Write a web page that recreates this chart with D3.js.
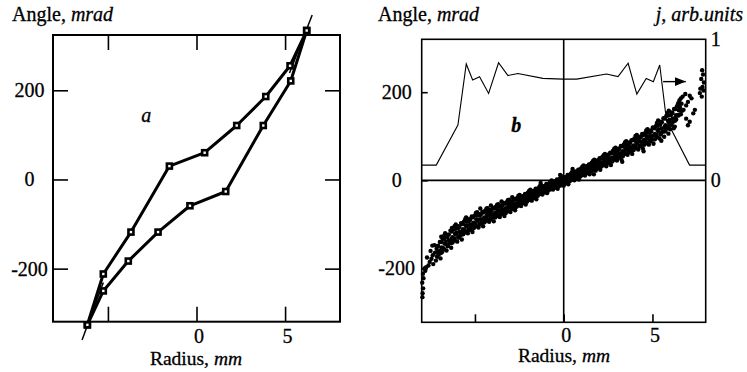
<!DOCTYPE html>
<html>
<head>
<meta charset="utf-8">
<script src="https://cdn.jsdelivr.net/npm/d3@7"></script>
<style>
body { margin: 0; background: #fff; }
svg { display: block; font-family: "Liberation Serif", "Times New Roman", serif; }
svg text { stroke: #000; stroke-width: 0.3; }
</style>
</head>
<body>
<svg id="chart"></svg>
<script>
// panel a: two branches, radius (mm) / angle (mrad)
var upperR = [-6.16, -5.26, -3.70, -1.53, 0.46, 2.27, 3.91, 5.28, 6.22];
var upperA = [-326, -212, -118, 30, 60, 121, 186, 255, 334];
var lowerR = [-6.16, -5.26, -3.85, -2.17, -0.37, 1.65, 3.77, 5.32, 6.22];
var lowerA = [-326, -250, -183, -118, -59, -27, 121, 221, 334];
// thin end extensions
var tailBottom = [[-6.46, -360], [-5.26, -231]];
var tailTop = [[6.53, 369], [5.25, 239]];

var yTicksA = [200, 0, -200];
var xTicks = [-5, 0, 5];
var xLabels = ['', '0', '5'];

// panel b: current density j (right axis) and measured angles
var jR = [-8.0, -7.18, -5.96, -5.49, -5.13, -4.74, -4.23, -3.67, -3.14, -2.58, -1.17, -0.04, 0.73, 2.41, 3.06, 3.63, 4.12, 4.65, 5.05, 5.41, 5.79, 7.09, 8.0];
var jV = [0.108, 0.108, 0.392, 0.825, 0.711, 0.735, 0.616, 0.834, 0.743, 0.757, 0.723, 0.718, 0.718, 0.754, 0.736, 0.830, 0.612, 0.722, 0.699, 0.818, 0.428, 0.108, 0.108];
var arrowR = [5.6, 6.88];
var arrowJ = 0.70;
var jTicks = [0, 1];

var scatter = [
[-7.2,-182],[-7.13,-173],[-7.25,-164],[-7.16,-155],[-7.28,-147],
[-6.94,-177],[-7.04,-168],[-6.91,-158],[-7.07,-149],[-6.98,-140],
[-6.86,-163],[-6.77,-154],[-6.72,-143],[-6.82,-133],[-6.75,-126],
[-6.6,-159],[-6.53,-149],[-6.65,-139],[-6.56,-129],[-6.68,-120],
[-6.34,-153],[-6.44,-143],[-6.31,-133],[-6.47,-123],[-6.38,-114],
[-6.26,-141],[-6.17,-132],[-6.12,-121],[-6.22,-111],[-6.15,-104],
[-6.0,-139],[-5.93,-129],[-6.05,-119],[-5.96,-109],[-6.08,-100],
[-5.74,-134],[-5.84,-125],[-5.71,-115],[-5.87,-106],[-5.78,-97],
[-5.66,-122],[-5.57,-113],[-5.52,-103],[-5.62,-94],[-5.55,-88],
[-5.4,-120],[-5.33,-111],[-5.45,-102],[-5.36,-93],[-5.48,-85],
[-5.14,-117],[-5.24,-108],[-5.11,-99],[-5.27,-90],[-5.18,-82],
[-5.06,-108],[-4.97,-99],[-4.92,-89],[-5.02,-80],[-4.95,-74],
[-4.8,-107],[-4.73,-98],[-4.85,-89],[-4.76,-80],[-4.88,-72],
[-4.54,-104],[-4.64,-96],[-4.51,-87],[-4.67,-78],[-4.58,-71],
[-4.46,-95],[-4.37,-87],[-4.32,-78],[-4.42,-69],[-4.35,-64],
[-4.2,-94],[-4.13,-86],[-4.25,-78],[-4.16,-70],[-4.28,-63],
[-3.94,-93],[-4.04,-85],[-3.91,-77],[-4.07,-69],[-3.98,-62],
[-3.86,-84],[-3.77,-76],[-3.72,-68],[-3.82,-60],[-3.75,-55],
[-3.6,-83],[-3.53,-76],[-3.65,-68],[-3.56,-60],[-3.68,-54],
[-3.34,-81],[-3.44,-73],[-3.31,-66],[-3.47,-58],[-3.38,-51],
[-3.26,-74],[-3.17,-66],[-3.12,-58],[-3.22,-50],[-3.15,-45],
[-3.0,-72],[-2.93,-64],[-3.05,-57],[-2.96,-50],[-3.08,-44],
[-2.74,-68],[-2.84,-61],[-2.71,-55],[-2.87,-48],[-2.78,-42],
[-2.66,-60],[-2.57,-54],[-2.52,-46],[-2.62,-40],[-2.55,-35],
[-2.4,-58],[-2.33,-52],[-2.45,-45],[-2.36,-39],[-2.48,-33],
[-2.14,-55],[-2.24,-49],[-2.11,-43],[-2.27,-36],[-2.18,-31],
[-2.06,-48],[-1.97,-42],[-1.92,-35],[-2.02,-28],[-1.95,-24],
[-1.8,-46],[-1.73,-40],[-1.85,-33],[-1.76,-27],[-1.88,-21],
[-1.54,-43],[-1.64,-37],[-1.51,-31],[-1.67,-24],[-1.58,-19],
[-1.46,-35],[-1.37,-29],[-1.32,-23],[-1.42,-17],[-1.35,-13],
[-1.2,-32],[-1.13,-27],[-1.25,-21],[-1.16,-16],[-1.28,-11],
[-0.94,-29],[-1.04,-24],[-0.91,-19],[-1.07,-13],[-0.98,-8],
[-0.86,-23],[-0.77,-18],[-0.72,-12],[-0.82,-7],[-0.75,-3],
[-0.6,-21],[-0.53,-16],[-0.65,-10],[-0.56,-5],[-0.68,0],
[-0.34,-19],[-0.44,-14],[-0.31,-9],[-0.47,-3],[-0.38,2],
[-0.26,-13],[-0.17,-8],[-0.12,-2],[-0.22,3],[-0.15,7],
[0,-12],[0.07,-7],[-0.05,-1],[0.04,4],[-0.08,9],
[0.26,-9],[0.16,-4],[0.29,1],[0.13,7],[0.22,12],
[0.34,-2],[0.43,3],[0.48,9],[0.38,14],[0.45,18],
[0.6,0],[0.67,4],[0.55,11],[0.64,16],[0.52,21],
[0.86,2],[0.76,8],[0.89,13],[0.73,19],[0.82,24],
[0.94,9],[1.03,15],[1.08,21],[0.98,27],[1.05,31],
[1.2,11],[1.27,17],[1.15,23],[1.24,29],[1.12,34],
[1.46,14],[1.36,20],[1.49,25],[1.33,31],[1.42,36],
[1.54,20],[1.63,27],[1.68,34],[1.58,40],[1.65,44],
[1.8,22],[1.87,28],[1.75,35],[1.84,41],[1.72,47],
[2.06,24],[1.96,31],[2.09,37],[1.93,44],[2.02,50],
[2.14,32],[2.23,38],[2.28,46],[2.18,53],[2.25,57],
[2.4,32],[2.47,40],[2.35,47],[2.44,54],[2.32,60],
[2.66,35],[2.56,42],[2.69,49],[2.53,56],[2.62,63],
[2.74,43],[2.83,51],[2.88,59],[2.78,67],[2.85,72],
[3.0,45],[3.07,52],[2.95,60],[3.04,68],[2.92,74],
[3.26,47],[3.16,55],[3.29,63],[3.13,71],[3.22,78],
[3.34,55],[3.43,64],[3.48,73],[3.38,81],[3.45,86],
[3.6,58],[3.67,66],[3.55,74],[3.64,82],[3.52,89],
[3.86,60],[3.76,68],[3.89,76],[3.73,84],[3.82,91],
[3.94,69],[4.03,77],[4.08,87],[3.98,95],[4.05,101],
[4.2,70],[4.27,78],[4.15,87],[4.24,96],[4.12,103],
[4.46,72],[4.36,80],[4.49,89],[4.33,98],[4.42,105],
[4.54,81],[4.63,89],[4.68,99],[4.58,107],[4.65,113],
[4.8,81],[4.87,90],[4.75,99],[4.84,108],[4.72,116],
[5.06,83],[4.96,92],[5.09,102],[4.93,111],[5.02,120],
[5.14,93],[5.23,103],[5.28,114],[5.18,123],[5.25,130],
[5.4,95],[5.47,106],[5.35,116],[5.44,126],[5.32,136],
[5.66,99],[5.56,110],[5.69,121],[5.53,132],[5.62,141],
[5.74,112],[5.83,123],[5.88,135],[5.78,146],[5.85,153],
[6.0,116],[6.07,126],[5.95,137],[6.04,148],[5.92,158],
[6.26,122],[6.16,133],[6.29,143],[6.13,153],[6.22,162],
[6.34,138],[6.43,148],[6.48,159],[6.38,168],[6.45,175],
[6.6,150],[6.67,158],[6.55,166],[6.64,174],[6.52,181],
[-7.95,-256],[-7.92,-245],[-7.97,-232],[-7.9,-222],[-7.93,-212],[-7.96,-265],[-7.85,-200],[-7.75,-197],
[-7.62,-193],[-7.55,-185],[-7.45,-178],[-7.7,-175],[-7.38,-170],[-7.5,-160],[-7.35,-190],[-7.8,-205],
[-7.4,-148],[-6.9,-128],[-6.3,-108],[-5.5,-84],[-4.7,-64],[-4.1,-57],[-3.5,-48],[-2.9,-38],[-1.3,-6],[-0.2,12],[0.5,26],
[1.7,14],[3.3,42],[4.5,66],[5.5,90],[5.9,106],[6.2,118],[7.0,125],[7.1,133],[6.9,140],
[6.75,160],[6.6,186],[6.7,190],[6.85,196],[7.0,178],[7.1,192],[6.9,170],[7.2,186],[7.3,152],[7.39,160],[7.67,198],
[7.8,250],[7.85,240],[7.75,230],[7.9,222],[7.82,212],[7.88,204],[7.7,208],[7.78,190]
];
// points read between the columns above, to close the band
var scatterMid = [
[-7.13,-173],[-7.07,-161],[-7.11,-149],[-6.93,-165],[-6.87,-152],[-6.91,-140],
[-6.73,-157],[-6.67,-144],[-6.71,-131],[-6.53,-149],[-6.47,-136],[-6.51,-123],
[-6.33,-142],[-6.27,-129],[-6.31,-116],[-6.13,-136],[-6.07,-123],[-6.11,-110],
[-5.93,-130],[-5.87,-117],[-5.91,-104],[-5.73,-123],[-5.67,-111],[-5.71,-99],
[-5.53,-118],[-5.47,-105],[-5.51,-93],[-5.33,-113],[-5.27,-100],[-5.31,-88],
[-5.13,-108],[-5.07,-96],[-5.11,-84],[-4.93,-104],[-4.87,-92],[-4.91,-80],
[-4.73,-100],[-4.67,-88],[-4.71,-76],[-4.53,-95],[-4.47,-84],[-4.51,-73],
[-4.33,-91],[-4.27,-80],[-4.31,-70],[-4.13,-88],[-4.07,-77],[-4.11,-67],
[-3.93,-84],[-3.87,-74],[-3.91,-64],[-3.73,-81],[-3.67,-70],[-3.71,-60],
[-3.53,-77],[-3.47,-67],[-3.51,-57],[-3.33,-74],[-3.27,-63],[-3.31,-53],
[-3.13,-70],[-3.07,-60],[-3.11,-50],[-2.93,-65],[-2.87,-56],[-2.91,-47],
[-2.73,-61],[-2.67,-52],[-2.71,-43],[-2.53,-57],[-2.47,-48],[-2.51,-39],
[-2.33,-52],[-2.27,-44],[-2.31,-36],[-2.13,-48],[-2.07,-40],[-2.11,-32],
[-1.93,-44],[-1.87,-36],[-1.91,-28],[-1.73,-40],[-1.67,-32],[-1.71,-24],
[-1.53,-36],[-1.47,-28],[-1.51,-20],[-1.33,-31],[-1.27,-24],[-1.31,-17],
[-1.13,-27],[-1.07,-20],[-1.11,-13],[-0.93,-24],[-0.87,-16],[-0.91,-9],
[-0.73,-20],[-0.67,-13],[-0.71,-6],[-0.53,-17],[-0.47,-9],[-0.51,-2],
[-0.33,-14],[-0.27,-6],[-0.31,1],[-0.13,-11],[-0.07,-3],[-0.11,4],
[0.07,-7],[0.13,0],[0.09,7],[0.27,-3],[0.33,4],[0.29,11],
[0.47,1],[0.53,8],[0.49,15],[0.67,4],[0.73,12],[0.69,20],
[0.87,8],[0.93,16],[0.89,24],[1.07,12],[1.13,20],[1.09,28],
[1.27,16],[1.33,24],[1.29,32],[1.47,20],[1.53,28],[1.49,36],
[1.67,24],[1.73,32],[1.69,40],[1.87,27],[1.93,36],[1.89,45],
[2.07,31],[2.13,40],[2.09,49],[2.27,35],[2.33,44],[2.29,53],
[2.47,38],[2.53,48],[2.49,58],[2.67,43],[2.73,52],[2.69,62],
[2.87,47],[2.93,57],[2.89,67],[3.07,51],[3.13,61],[3.09,72],
[3.27,55],[3.33,66],[3.29,77],[3.47,60],[3.53,70],[3.49,81],
[3.67,64],[3.73,75],[3.69,86],[3.87,68],[3.93,79],[3.89,91],
[4.07,73],[4.13,84],[4.09,95],[4.27,77],[4.33,88],[4.29,99],
[4.47,81],[4.53,92],[4.49,103],[4.67,84],[4.73,96],[4.69,108],
[4.87,88],[4.93,100],[4.89,113],[5.07,93],[5.13,105],[5.09,118],
[5.27,98],[5.33,111],[5.29,125],[5.47,104],[5.53,118],[5.49,133],
[5.67,111],[5.73,125],[5.69,140],[5.87,118],[5.93,132],[5.89,147],
[6.07,126],[6.13,140],[6.09,154],[6.27,135],[6.33,148],[6.29,162],
[6.47,147],[6.53,159],[6.49,171]
];
var yTicksB = [200, 0, -200];

var w = 747, h = 372, fs = 20;

var svg = d3.select('#chart')
	.attr('width', w)
	.attr('height', h);

function styleAxis(g) {
	g.attr('font-family', null).attr('font-size', fs);
	g.select('.domain').remove();
	g.selectAll('.tick line').attr('stroke-width', 1.6);
}

// ---------- panel a ----------
var xa = d3.scaleLinear().domain([-8.1, 8.1]).range([53, 340]);
var ya = d3.scaleLinear().domain([-319, 324]).range([321.7, 35]);

svg.append('g')
	.attr('transform', 'translate(53,0)')
	.call(d3.axisLeft(ya).tickValues(yTicksA).tickSize(-15).tickFormat(String))
	.call(styleAxis)
	.call(g => g.selectAll('text').attr('x', -23.5).attr('text-anchor', 'middle'));

svg.append('g')
	.attr('transform', 'translate(340,0)')
	.call(d3.axisRight(ya).tickValues(yTicksA).tickSize(-15).tickFormat(''))
	.call(styleAxis);

svg.append('g')
	.attr('transform', 'translate(0,35)')
	.call(d3.axisTop(xa).tickValues(xTicks).tickSize(-15).tickFormat(''))
	.call(styleAxis);

svg.append('g')
	.attr('transform', 'translate(0,321.7)')
	.call(d3.axisBottom(xa).tickValues(xTicks).tickSize(-15).tickFormat((d, i) => xLabels[i]))
	.call(styleAxis)
	.call(g => g.selectAll('text').attr('y', 21.5).attr('dy', null).attr('dx', 2));

svg.append('rect')
	.attr('x', 53).attr('y', 35)
	.attr('width', 287).attr('height', 286.7)
	.attr('fill', 'none').attr('stroke', '#000').attr('stroke-width', 2);

var lineA = d3.line().x(d => xa(d[0])).y(d => ya(d[1]));

[tailBottom, tailTop].forEach(function (t) {
	svg.append('path')
		.attr('d', lineA(t))
		.attr('fill', 'none').attr('stroke', '#000').attr('stroke-width', 1.5);
});

var branches = [d3.zip(upperR, upperA), d3.zip(lowerR, lowerA)];
branches.forEach(function (b) {
	svg.append('path')
		.attr('d', lineA(b))
		.attr('fill', 'none').attr('stroke', '#000')
		.attr('stroke-width', 3).attr('stroke-linejoin', 'round');
});
branches.forEach(function (b) {
	svg.selectAll(null)
		.data(b)
		.enter()
		.append('rect')
			.attr('x', d => xa(d[0]) - 2.5)
			.attr('y', d => ya(d[1]) - 2.5)
			.attr('width', 5).attr('height', 5)
			.attr('fill', '#fff').attr('stroke', '#000').attr('stroke-width', 2.6);
});

svg.append('text')
	.attr('x', xa(-2.84)).attr('y', ya(128))
	.attr('text-anchor', 'middle').attr('font-size', fs).attr('font-style', 'italic')
	.text('a');

svg.append('text')
	.attr('x', 12).attr('y', 20.5).attr('font-size', fs)
	.call(t => t.append('tspan').text('Angle, '))
	.call(t => t.append('tspan').attr('font-style', 'italic').text('mrad'));

svg.append('text')
	.attr('x', 196).attr('y', 364.5).attr('font-size', 19.5).attr('text-anchor', 'middle')
	.call(t => t.append('tspan').text('Radius, '))
	.call(t => t.append('tspan').attr('font-style', 'italic').text('mm'));

// ---------- panel b ----------
var xb = d3.scaleLinear().domain([-8, 8]).range([421.7, 705.7]);
var yb = d3.scaleLinear().domain([-322, 320]).range([322.3, 39.3]);
var jb = d3.scaleLinear().domain([0, 1]).range([yb(0), 39.3]);

svg.append('g')
	.attr('transform', 'translate(421.7,0)')
	.call(d3.axisLeft(yb).tickValues(yTicksB).tickSize(-6).tickFormat(String))
	.call(styleAxis)
	.call(g => g.selectAll('text').attr('x', -25).attr('text-anchor', 'middle'));

svg.append('g')
	.attr('transform', 'translate(0,322.3)')
	.call(d3.axisBottom(xb).tickValues(xTicks).tickSize(-8).tickFormat((d, i) => xLabels[i]))
	.call(styleAxis)
	.call(g => g.selectAll('text').attr('y', 19.5).attr('dy', null).attr('dx', 2));

svg.append('g')
	.attr('transform', 'translate(705.7,0)')
	.call(d3.axisRight(jb).tickValues(jTicks).tickSize(0).tickFormat(String))
	.call(styleAxis)
	.call(g => g.selectAll('text').attr('x', 10).attr('text-anchor', 'middle'));

svg.append('rect')
	.attr('x', 421.7).attr('y', 39.3)
	.attr('width', 284).attr('height', 283)
	.attr('fill', 'none').attr('stroke', '#000').attr('stroke-width', 1.6);

svg.append('line')
	.attr('x1', xb(-8)).attr('x2', xb(8))
	.attr('y1', yb(0)).attr('y2', yb(0))
	.attr('stroke', '#000').attr('stroke-width', 1.6);
svg.append('line')
	.attr('x1', xb(0)).attr('x2', xb(0))
	.attr('y1', yb(320)).attr('y2', yb(-322))
	.attr('stroke', '#000').attr('stroke-width', 1.6);

var lineJ = d3.line().x(d => xb(d[0])).y(d => jb(d[1]));
svg.append('path')
	.attr('d', lineJ(d3.zip(jR, jV)))
	.attr('fill', 'none').attr('stroke', '#000').attr('stroke-width', 1.1);

svg.append('defs').append('marker')
	.attr('id', 'arrow')
	.attr('markerUnits', 'userSpaceOnUse')
	.attr('markerWidth', 12).attr('markerHeight', 10)
	.attr('refX', 11).attr('refY', 4.5)
	.attr('orient', 'auto')
	.append('path').attr('d', 'M0,0L11,4.5L0,9Z').attr('fill', '#000');

svg.append('line')
	.attr('x1', xb(arrowR[0])).attr('x2', xb(arrowR[1]))
	.attr('y1', jb(arrowJ)).attr('y2', jb(arrowJ))
	.attr('stroke', '#000').attr('stroke-width', 1.4)
	.attr('marker-end', 'url(#arrow)');

svg.selectAll('circle.pt')
	.data(scatter.concat(scatterMid))
	.enter()
	.append('circle')
		.attr('class', 'pt')
		.attr('cx', d => xb(d[0]))
		.attr('cy', d => yb(d[1]))
		.attr('r', 2.2)
		.attr('fill', '#000');

svg.append('text')
	.attr('x', xb(-2.67)).attr('y', yb(110))
	.attr('text-anchor', 'middle').attr('font-size', fs)
	.attr('font-style', 'italic').attr('font-weight', 'bold')
	.text('b');

svg.append('text')
	.attr('x', 378).attr('y', 20.5).attr('font-size', fs)
	.call(t => t.append('tspan').text('Angle, '))
	.call(t => t.append('tspan').attr('font-style', 'italic').text('mrad'));

svg.append('text')
	.attr('x', 743).attr('y', 20.5).attr('font-size', fs)
	.attr('text-anchor', 'end').attr('font-style', 'italic')
	.text('j, arb.units');

svg.append('text')
	.attr('x', 564).attr('y', 362).attr('font-size', 19.5).attr('text-anchor', 'middle')
	.call(t => t.append('tspan').text('Radius, '))
	.call(t => t.append('tspan').attr('font-style', 'italic').text('mm'));
</script>
</body>
</html>
